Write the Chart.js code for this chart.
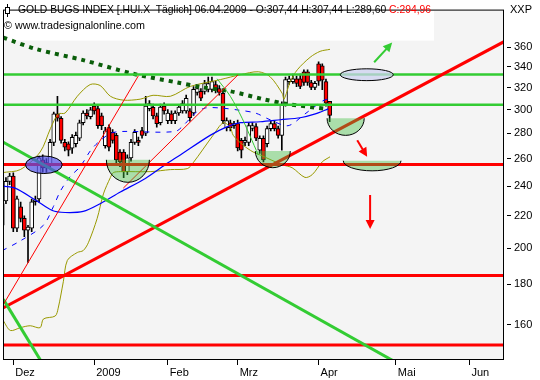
<!DOCTYPE html>
<html>
<head>
<meta charset="utf-8">
<script src="https://cdn.jsdelivr.net/npm/chart.js@4.4.1/dist/chart.umd.min.js"></script>
<style>
  html, body { margin: 0; padding: 0; background: #fff; }
  canvas { display: block; }
</style>
</head>
<body>
<canvas id="chart" width="540" height="380"></canvas>
<script>
const FONT = "'Liberation Sans', Arial, sans-serif";

// Candles, one per trading day; day 0 = 1 Dec 2008
const FIRST_DAY = -3;
const OPEN = [214, 229.8, 243.3, 247, 212.2, 225.9, 218.3, 211.0, 212.2, 229.2, 231.1, 259, 253, 255.4, 272.7, 296.3, 292.6, 272.7, 271.6, 268,
  271.6, 276, 288.8, 297, 294, 303.2, 301, 294.6, 270, 284.7, 280.7, 278.3, 265, 265, 250.3, 260.6, 272.7, 274.3, 282.3, 280,
  301, 302, 294.6, 288.8, 303.2, 290.5, 296.3, 290.5, 297.1, 298.9, 298.9, 298.9, 297.1, 315.6, 316.5, 316.5, 318.3, 318.3, 322.9, 319.2,
  314.7, 284.7, 288.8, 286.3, 288, 274.3, 272.7, 272.7, 284, 285.5, 266.6, 276, 271.6, 283.9, 288, 283.9, 278.3, 304.9, 325.7, 325.7,
  328.4, 328.4, 335.2, 335.2, 324.8, 320.2, 343, 341, 325.7, 307.44];
const HIGH = [232, 246, 249, 249.5, 233, 229, 220, 214, 231, 233, 262, 263, 260, 275, 298, 312, 294, 275, 273, 279,
  281, 291, 299, 300, 302, 306, 303, 297, 285, 287, 283, 280, 267, 267, 263, 275, 283, 277, 285, 312,
  308, 305, 297, 305, 306, 300, 299, 299, 304, 308, 313, 301, 321, 322, 319, 327, 330, 330, 326, 322,
  318, 293, 291, 290, 291, 276, 277, 289, 289, 288, 278, 278, 286, 290, 290, 286, 307, 330, 331, 333,
  331, 333, 337, 337, 327, 326, 345, 343, 328, 307.44];
const LOW = [209, 228, 241, 210, 210, 216, 207, 192, 210, 227, 229, 250, 250, 253, 270, 290, 272, 266, 262, 264,
  269, 274, 287, 292, 292, 296, 284, 283, 268, 266, 272, 257, 254, 246, 248, 258, 271, 270, 276, 278,
  299, 292, 285, 287, 296, 288, 288, 288, 295, 297, 297, 290, 295, 313, 308, 314, 316, 316, 315, 313,
  288, 282, 282, 284, 266, 260.6, 270, 270, 282, 274, 264, 257.6, 269, 282, 282, 276, 266.6, 303, 323, 324,
  321, 319, 322, 322, 318, 318, 322, 318, 303, 289.6];
const CLOSE = [228, 243.3, 247, 212.2, 231.1, 218.3, 211.0, 212.8, 229.2, 230.5, 260.6, 253, 257, 272.7, 296.3, 292.6, 274.3, 268.9, 266.6, 276.7,
  278.3, 288.8, 297.1, 294.6, 299.9, 298.9, 286.3, 286.3, 282, 268.9, 274.3, 259.1, 257.6, 250.3, 260.6, 272.7, 280.7, 272.7, 278.3, 303.2,
  305.4, 294.6, 288, 302.3, 298.9, 297.1, 290.5, 297.1, 302.3, 305.4, 310.2, 293, 318.3, 319.2, 310.2, 323.8, 323.8, 325.7, 318.3, 315.6,
  290.5, 290.5, 284.7, 288, 268.2, 266.6, 274.3, 286.3, 286.3, 276, 276, 259.1, 283.9, 288, 283.9, 278.3, 304.9, 327.5, 328.4, 328.4,
  324, 321.1, 324.8, 324.8, 320.2, 324, 326, 327, 305.8, 294.96];

// Indicators, [day, value]
const UPPER_BAND = [[-3.0, 249.6], [1.9, 251.8], [7.3, 265.1], [10.1, 283.9], [12.2, 296.3], [14.1, 297.1], [17.4, 312.0], [20.9, 322.9],
  [23.6, 322.0], [26.4, 312.0], [29.9, 308.5], [34.5, 309.4], [38.0, 312.9], [42.7, 312.0], [48.1, 321.1], [56.3, 327.6], [61.7, 332.3],
  [66.6, 335.2], [69.8, 330.4], [73.1, 314.7], [73.6, 309.4], [75.3, 325.7], [77.2, 337.1], [80.7, 349.7], [83.4, 355.8], [86.1, 357.9]];
const LOWER_BAND = [[-2.7, 161.8], [-0.8, 157.3], [1.9, 158.6], [4.6, 159.5], [7.3, 158.6], [8.2, 162.7], [11.4, 164.1], [12.2, 167.9],
  [13.6, 181.4], [14.7, 193.1], [17.4, 197.6], [19.0, 198.7], [20.4, 203.3], [22.8, 218.3], [24.5, 234.5], [26.4, 246.1], [27.2, 249.6],
  [29.1, 250.3], [37.2, 250.3], [42.7, 251.8], [47.3, 252.5], [48.9, 256.9], [54.3, 278.3], [57.1, 288.8], [59.0, 284.7], [59.8, 278.3],
  [62.5, 270.4], [65.2, 265.1], [67.1, 262.8], [73.1, 255.4], [75.8, 253.2], [79.3, 246.1], [81.3, 248.2], [84.0, 257.6], [86.1, 261.4]];
const MA_SHORT = [[-3.0, 198.7], [1.9, 204.4], [8.2, 214.0], [10.9, 226.0], [12.8, 236.5], [15.5, 246.8], [18.2, 254.0], [20.9, 265.8],
  [23.1, 272.7], [26.4, 279.9], [29.6, 281.5], [44.0, 281.5], [46.7, 288.0], [49.5, 297.1], [52.2, 301.5], [56.3, 301.5], [60.9, 299.8],
  [65.8, 297.1], [69.8, 291.3], [74.7, 286.3], [79.3, 296.3], [84.0, 307.6], [86.1, 310.2]];
const MA_MID = [[-2.7, 239.9], [0.5, 238.5], [6.0, 230.4], [10.6, 223.4], [14.1, 222.1], [19.0, 222.8], [23.6, 227.9], [29.1, 235.8],
  [35.9, 245.4], [41.3, 255.4], [45.4, 262.8], [53.5, 278.3], [58.2, 285.5], [61.7, 288.8], [67.1, 289.6], [72.6, 291.3], [78.0, 293.0],
  [82.1, 296.3], [85.6, 300.7]];
const MA_LONG = [[-2.7, 370.3], [6.5, 357.9], [19.0, 346.8], [32.6, 333.2], [44.6, 324.8], [51.6, 320.2], [59.0, 316.6], [67.9, 309.4],
  [74.5, 305.0], [85.3, 300.7]];

// Drawn support / resistance
const GREEN_LEVELS = [332.5, 304.4];
const RED_LEVELS = [255.6, 184.7, 150.8];
const RED_TREND = [[-2.8, 168.0], [133.4, 366.0]];
const RED_THIN_A = [[-3.0, 168.8], [34.0, 331.2]];
const RED_THIN_B = [[29.9, 238.5], [61.1, 332.2]];
const GREEN_TREND = [[-2.7, 272.8], [105.8, 141.8]];
const GREEN_STEEP = [[-2.7, 172.3], [8.15, 142.3]];
const GREEN_CURVE = [[55.4, 328.4], [59.0, 312.0], [62.2, 292.6], [64.4, 277.5], [66.6, 262.8]];

// Shapes: [fromDay, toDay, topValue, bottomValue]
const ELLIPSES = [[3.3, 13.3, 262.0, 248.9], [88.9, 103.3, 338.1, 326.6]];
const BOWLS = [[25.3, 37.0, 259.1, 242.6], [65.8, 75.3, 265.8, 253.2], [85.3, 95.4, 292.6, 278.3], [89.7, 105.4, 258.4, 250.9]];
// Arrows: [fromDay, fromValue, toDay, toValue]
const ARROWS = [[98.1, 344.6, 103.0, 365.0], [93.5, 274.3, 96.2, 261.4], [97.0, 233.8, 97.0, 211.6]];

const MONTH_TICKS = [0, 22, 42, 61, 83, 104, 124];
const MONTH_LABELS = ['Dez', '2009', 'Feb', 'Mrz', 'Apr', 'Mai', 'Jun'];
const PRICE_TICKS = [160, 180, 200, 220, 240, 260, 280, 300, 320, 340, 360];
const X_MIN = -2.8, X_MAX = 133.4, Y_MIN = 144.3, Y_MAX = 402;

const TITLE = 'GOLD BUGS INDEX [.HUI.X  T\u00e4glich] 06.04.2009 - O:307,44 H:307,44 L:289,60 ';
const TITLE_CLOSE = 'C:294,96';
const COPYRIGHT = '\u00a9 www.tradesignalonline.com';

const days = OPEN.map((_, k) => FIRST_DAY + k);

function line(points, color, width, extra) {
  return Object.assign({
    type: 'line',
    data: points.map(p => ({ x: p[0], y: p[1] })),
    borderColor: color,
    borderWidth: width,
    pointRadius: 0,
    fill: false,
    tension: 0,
    order: 10
  }, extra || {});
}
function flat(value) {
  return [[X_MIN, value], [X_MAX, value]];
}

// Background, header box
const backdrop = {
  id: 'backdrop',
  beforeDraw(chart) {
    const { ctx, chartArea: a } = chart;
    ctx.save();
    ctx.fillStyle = '#ffffff';
    ctx.fillRect(0, 0, chart.width, chart.height);
    ctx.fillStyle = '#f4f4f4';
    ctx.fillRect(a.left, a.top, a.right - a.left, a.bottom - a.top);
    ctx.fillStyle = '#ffffff';
    ctx.fillRect(a.left + 1, a.top + 1, 430, 30);
    ctx.restore();
  }
};

// Ellipses, bowls, arrows, frame and header text
const drawings = {
  id: 'drawings',
  afterDatasetsDraw(chart) {
    const { ctx, chartArea: a } = chart;
    const xs = chart.scales.x, ys = chart.scales.y;
    ctx.save();
    ctx.beginPath();
    ctx.rect(a.left, a.top, a.right - a.left, a.bottom - a.top);
    ctx.clip();
    ctx.lineWidth = 1;
    ctx.strokeStyle = '#000';

    ELLIPSES.forEach((e, k) => {
      const x1 = xs.getPixelForValue(e[0]), x2 = xs.getPixelForValue(e[1]);
      const y1 = ys.getPixelForValue(e[2]), y2 = ys.getPixelForValue(e[3]);
      ctx.beginPath();
      ctx.ellipse((x1 + x2) / 2, (y1 + y2) / 2, (x2 - x1) / 2, (y2 - y1) / 2, 0, 0, Math.PI * 2);
      ctx.fillStyle = k === 0 ? 'rgba(80,80,232,0.7)' : 'rgba(205,210,240,0.75)';
      ctx.fill();
      ctx.stroke();
    });

    BOWLS.forEach(b => {
      const x1 = xs.getPixelForValue(b[0]), x2 = xs.getPixelForValue(b[1]);
      const y1 = ys.getPixelForValue(b[2]), y2 = ys.getPixelForValue(b[3]);
      ctx.beginPath();
      ctx.ellipse((x1 + x2) / 2, y1, (x2 - x1) / 2, y2 - y1, 0, 0, Math.PI);
      ctx.closePath();
      ctx.fillStyle = 'rgba(60,190,60,0.4)';
      ctx.fill();
      ctx.beginPath();
      ctx.ellipse((x1 + x2) / 2, y1, (x2 - x1) / 2, y2 - y1, 0, 0, Math.PI);
      ctx.stroke();
    });

    ARROWS.forEach((r, k) => {
      const x1 = xs.getPixelForValue(r[0]), y1 = ys.getPixelForValue(r[1]);
      const x2 = xs.getPixelForValue(r[2]), y2 = ys.getPixelForValue(r[3]);
      const color = k === 0 ? '#33cc33' : '#ff0000';
      const ang = Math.atan2(y2 - y1, x2 - x1);
      ctx.strokeStyle = color;
      ctx.fillStyle = color;
      ctx.lineWidth = 2;
      ctx.beginPath();
      ctx.moveTo(x1, y1);
      ctx.lineTo(x2 - 5 * Math.cos(ang), y2 - 5 * Math.sin(ang));
      ctx.stroke();
      ctx.beginPath();
      ctx.moveTo(x2, y2);
      ctx.lineTo(x2 - 9 * Math.cos(ang) + 4.5 * Math.sin(ang), y2 - 9 * Math.sin(ang) - 4.5 * Math.cos(ang));
      ctx.lineTo(x2 - 9 * Math.cos(ang) - 4.5 * Math.sin(ang), y2 - 9 * Math.sin(ang) + 4.5 * Math.cos(ang));
      ctx.closePath();
      ctx.fill();
    });
    ctx.restore();
  },
  afterDraw(chart) {
    const { ctx, chartArea: a } = chart;
    ctx.save();
    ctx.strokeStyle = '#000';
    ctx.lineWidth = 1;
    ctx.strokeRect(a.left + 0.5, a.top + 0.5, a.right - a.left - 1, a.bottom - a.top - 1);

    // small candle symbol
    ctx.beginPath();
    ctx.moveTo(7.5, 4);
    ctx.lineTo(7.5, 17);
    ctx.stroke();
    ctx.fillStyle = '#fff';
    ctx.fillRect(5.5, 7.5, 4, 6);
    ctx.strokeRect(5.5, 7.5, 4, 6);

    // header text, squeezed to the width of the original
    ctx.font = '11px ' + FONT;
    ctx.textBaseline = 'middle';
    const w1 = ctx.measureText(TITLE).width;
    const w2 = ctx.measureText(TITLE_CLOSE).width;
    const squeeze = 413 / (w1 + w2);
    ctx.fillStyle = '#000';
    ctx.fillText(TITLE, 18, 10, w1 * squeeze);
    ctx.fillStyle = '#ff0000';
    ctx.fillText(TITLE_CLOSE, 18 + w1 * squeeze, 10, w2 * squeeze);
    ctx.fillStyle = '#000';
    const w3 = ctx.measureText(COPYRIGHT).width;
    ctx.fillText(COPYRIGHT, 4, 26, Math.min(w3, 141));
    ctx.fillText('XXP', 510, 10);
    ctx.restore();
  }
};

const datasets = [
  {
    type: 'bar',
    data: days.map((d, k) => ({ x: d, y: [OPEN[k], CLOSE[k]] })),
    backgroundColor: days.map((_, k) => CLOSE[k] < OPEN[k] ? '#ff0000' : '#ffffff'),
    borderColor: '#000',
    borderWidth: 1,
    borderSkipped: false,
    barThickness: 4,
    grouped: false,
    order: 99
  },
  {
    type: 'bar',
    data: days.map((d, k) => ({ x: d, y: [LOW[k], HIGH[k]] })),
    backgroundColor: '#000',
    borderWidth: 0,
    barThickness: 1,
    grouped: false,
    order: 100
  },
  line(UPPER_BAND, '#999900', 1, { tension: 0.3, order: 60 }),
  line(LOWER_BAND, '#999900', 1, { tension: 0.3, order: 60 }),
  line(MA_MID, '#0000ff', 1.2, { tension: 0.3, order: 55 }),
  line(MA_SHORT, '#0000ff', 1, { tension: 0.3, borderDash: [5, 6], order: 55 }),
  line(MA_LONG, '#0a5e0a', 4, { tension: 0.3, borderDash: [4, 5], order: 50 }),
  line(RED_THIN_A, '#ff0000', 1),
  line(RED_THIN_B, '#ff0000', 1),
  line(GREEN_CURVE, '#33cc33', 1, { tension: 0.3 }),
  line(GREEN_TREND, '#33cc33', 3),
  line(GREEN_STEEP, '#33cc33', 3),
  line(RED_TREND, '#ff0000', 3)
];
GREEN_LEVELS.forEach(v => datasets.push(line(flat(v), '#33cc33', 2.5)));
RED_LEVELS.forEach(v => datasets.push(line(flat(v), '#ff0000', 3)));

new Chart(document.getElementById('chart'), {
  type: 'bar',
  data: { datasets },
  options: {
    responsive: false,
    animation: false,
    events: [],
    devicePixelRatio: 1,
    layout: { padding: { left: 3, top: 1, right: 0, bottom: 0 } },
    plugins: { legend: { display: false }, tooltip: { enabled: false } },
    scales: {
      x: {
        type: 'linear',
        min: X_MIN,
        max: X_MAX,
        offset: false,
        border: { display: false },
        grid: { drawOnChartArea: false, drawTicks: true, tickLength: 5, color: '#000', offset: false },
        ticks: {
          autoSkip: false,
          maxRotation: 0,
          align: 'start',
          labelOffset: 2,
          padding: 1,
          color: '#000',
          font: { family: FONT, size: 11 },
          callback: v => MONTH_LABELS[MONTH_TICKS.indexOf(v)]
        },
        afterBuildTicks: s => { s.ticks = MONTH_TICKS.map(v => ({ value: v })); },
        afterFit: s => { s.height = 20; }
      },
      y: {
        type: 'logarithmic',
        position: 'right',
        min: Y_MIN,
        max: Y_MAX,
        border: { display: false },
        grid: { drawOnChartArea: false, tickLength: 7, color: '#000', tickBorderDash: [0, 3, 4, 20] },
        ticks: {
          padding: 3,
          color: '#000',
          font: { family: FONT, size: 11 },
          callback: v => String(v)
        },
        afterBuildTicks: s => { s.ticks = PRICE_TICKS.map(v => ({ value: v })); },
        afterFit: s => { s.width = 36; }
      }
    }
  },
  plugins: [backdrop, drawings]
});
</script>
</body>
</html>
